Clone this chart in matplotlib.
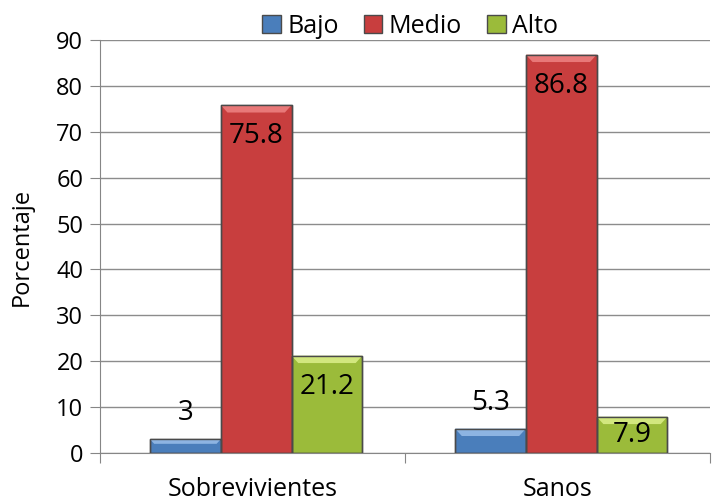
import matplotlib.pyplot as plt
import numpy as np
from matplotlib.patches import Polygon

plt.rcParams['font.family'] = ['Open Sans', 'DejaVu Sans']

categorias = ['Sobrevivientes', 'Sanos']
series = ['Bajo', 'Medio', 'Alto']
bajo = [3, 5.3]
medio = [75.8, 86.8]
alto = [21.2, 7.9]
valores = [bajo, medio, alto]

colores = ['#4A7EBB', '#C83E3E', '#9BBB3A']
claros = ['#8DB4E2', '#E87878', '#D2E77E']

fig = plt.figure(figsize=(7.12, 5.04), dpi=100)
ax = fig.add_axes([0.1404, 0.1012, 0.857, 0.8194])

x = np.arange(len(categorias))
w = 0.232
offs = [-w, 0, w]
bev_x = 0.022  # bevel size in x units
bev_y = 1.6    # bevel size in y units

for k, (nom, vals) in enumerate(zip(series, valores)):
    bars = ax.bar(x + offs[k] + 0.012, vals, w, color=colores[k], edgecolor='#4a4a4a',
                  linewidth=1.0, label=nom, zorder=3)
    for b, v in zip(bars, vals):
        x0 = b.get_x()
        x1 = x0 + b.get_width()
        by = min(bev_y, v / 3)
        bx = min(bev_x, bev_x * by / bev_y)
        top = Polygon([(x0, v), (x1, v), (x1 - bx, v - by), (x0 + bx, v - by)],
                      closed=True, facecolor=claros[k], edgecolor='none', zorder=4)
        ax.add_patch(top)
        ax.plot([x0, x1, x1, x0, x0], [0, 0, v, v, 0], color='#4a4a4a', lw=1.0, zorder=5)
        if v > 6:
            ax.text(b.get_x() + w / 2, max(v - 6.8, v / 2), f'{v:g}', ha='center',
                    va='center', fontsize=20, zorder=6)
        else:
            ax.text(b.get_x() + w / 2, v + 2.6, f'{v:g}', ha='center', va='bottom',
                    fontsize=20, zorder=6)

ax.set_xlim(-0.5, 1.5)
ax.set_ylim(0, 90)
ax.set_yticks(range(0, 91, 10))
ax.set_xticks([-0.5, 0.5, 1.5], minor=False)
ax.set_xticklabels([])
ax.set_xticks(x, minor=True)
ax.set_xticklabels(categorias, minor=True, fontsize=18)
ax.tick_params(axis='x', which='minor', length=0, pad=17)
ax.tick_params(axis='x', which='major', length=7, color='#868686', direction='out')
ax.tick_params(axis='y', length=7, color='#868686', labelsize=17, pad=5)
ax.grid(axis='y', color='#8c8c8c', linewidth=1.0, zorder=0)
ax.set_axisbelow(True)
for s in ['top', 'right']:
    ax.spines[s].set_visible(False)
ax.spines['left'].set_color('#868686')
ax.spines['bottom'].set_color('#868686')
ax.set_ylabel('Porcentaje', fontsize=17)
ax.yaxis.set_label_coords(-0.108, 0.5)

ax.legend(loc='lower center', bbox_to_anchor=(0.508, 1.003), ncol=3, frameon=False,
          fontsize=18, handlelength=0.75, handleheight=0.75, handletextpad=0.25,
          columnspacing=1.0, borderaxespad=0, borderpad=0)

fig.savefig('out.png', dpi=100)
